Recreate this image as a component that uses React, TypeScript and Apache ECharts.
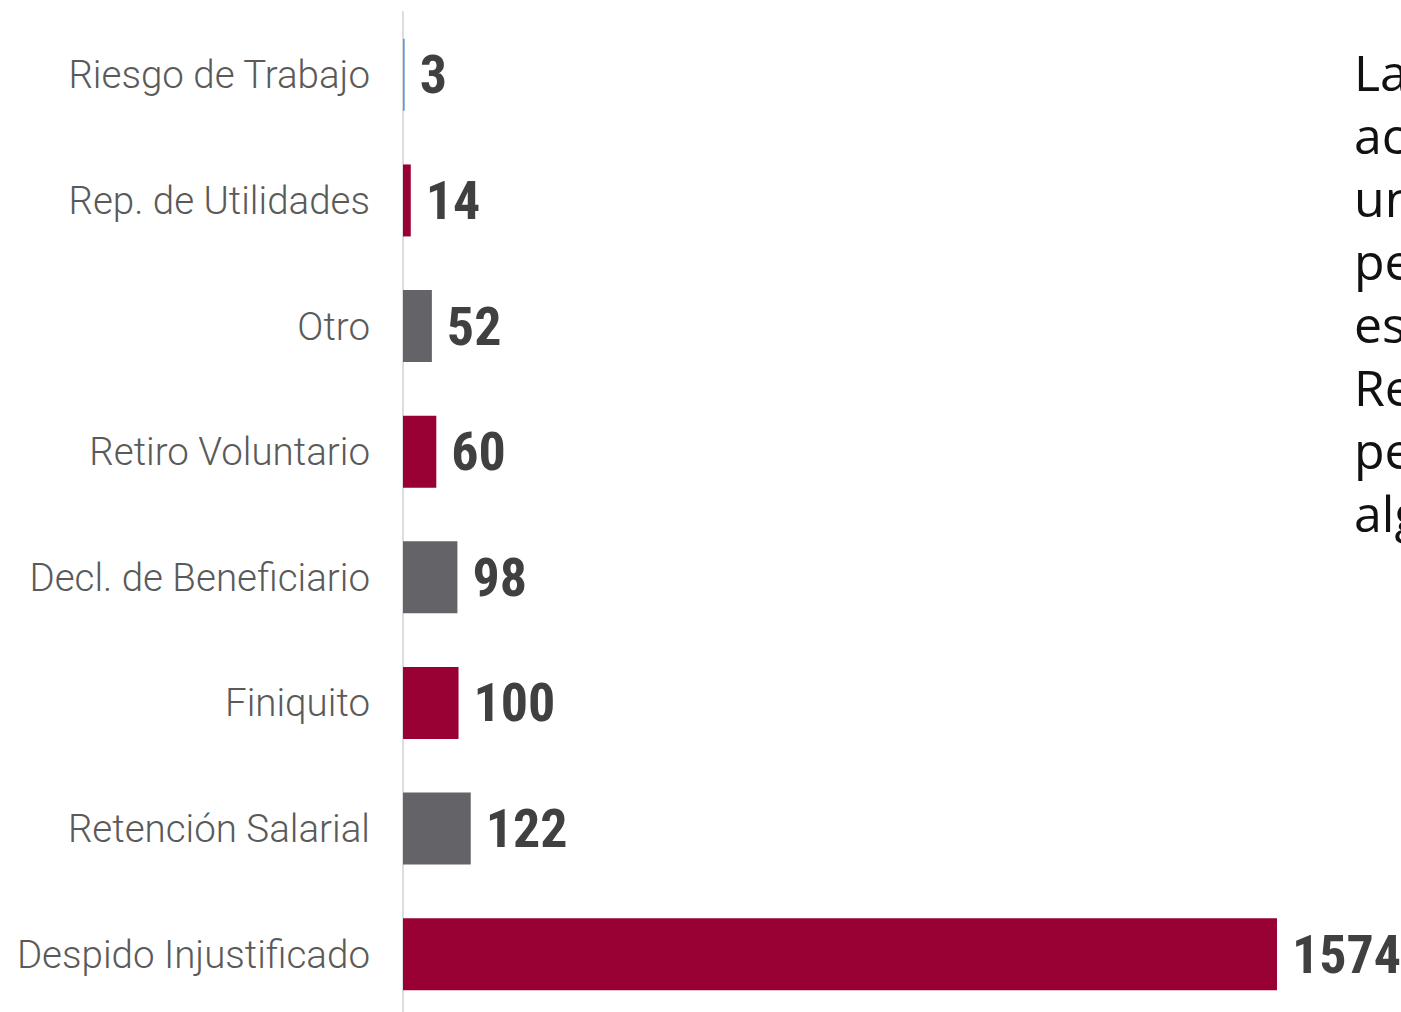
import React, { useEffect, useRef } from "react";
import * as echarts from "echarts";

const categories = [
  "Riesgo de Trabajo",
  "Rep. de Utilidades",
  "Otro",
  "Retiro Voluntario",
  "Decl. de Beneficiario",
  "Finiquito",
  "Retención Salarial",
  "Despido Injustificado",
];
const values = [3, 14, 52, 60, 98, 100, 122, 1574];
const barColors = ["#5b9bd5", "#990033", "#636368", "#990033", "#636368", "#990033", "#636368", "#990033"];
const sideText = ["La mayoría de", "acciones son", "un despido", "pero también", "es frecuente la", "Retención Salarial,", "pero en menor", "algunos casos"];

export default function App() {
  const ref = useRef<HTMLDivElement>(null);
  useEffect(() => {
    const chart = echarts.init(ref.current!, null, { renderer: "svg" });
    const valueFont = "'Roboto Condensed', Roboto, sans-serif";
    chart.setOption({
      animation: false,
      backgroundColor: "#ffffff",
      grid: { left: 403, right: 124, top: 12, bottom: 0, containLabel: false },
      xAxis: {
        type: "value",
        min: 0,
        max: 1574,
        show: false,
      },
      yAxis: {
        type: "category",
        data: categories,
        inverse: true,
        axisLine: { show: true, lineStyle: { color: "#dddddd", width: 2 } },
        axisTick: { show: false },
        axisLabel: {
          color: "#5a5a5a",
          fontFamily: "Roboto, sans-serif",
          fontWeight: 300,
          fontSize: 38.5,
          margin: 33,
        },
      },
      series: [
        {
          type: "bar",
          barWidth: 72,
          data: values.map((v, i) => ({ value: v, itemStyle: { color: barColors[i] } })),
          label: {
            show: true,
            position: "right",
            distance: 15,
            color: "#404040",
            fontFamily: valueFont,
            fontWeight: 700,
            fontSize: 54,
          },
        },
      ],
      graphic: sideText.map((t, i) => ({
        type: "text",
        left: 1354,
        top: 47 + i * 63,
        style: {
          text: t,
          fill: "#111111",
          font: "400 50px 'Open Sans', sans-serif",
        },
      })),
    });
    return () => chart.dispose();
  }, []);
  return (
    <div style={{ position: "fixed", left: 0, top: 0, width: 1401, height: 1012, overflow: "hidden" }}>
      <div ref={ref} style={{ width: 1401, height: 1017 }} />
    </div>
  );
}
